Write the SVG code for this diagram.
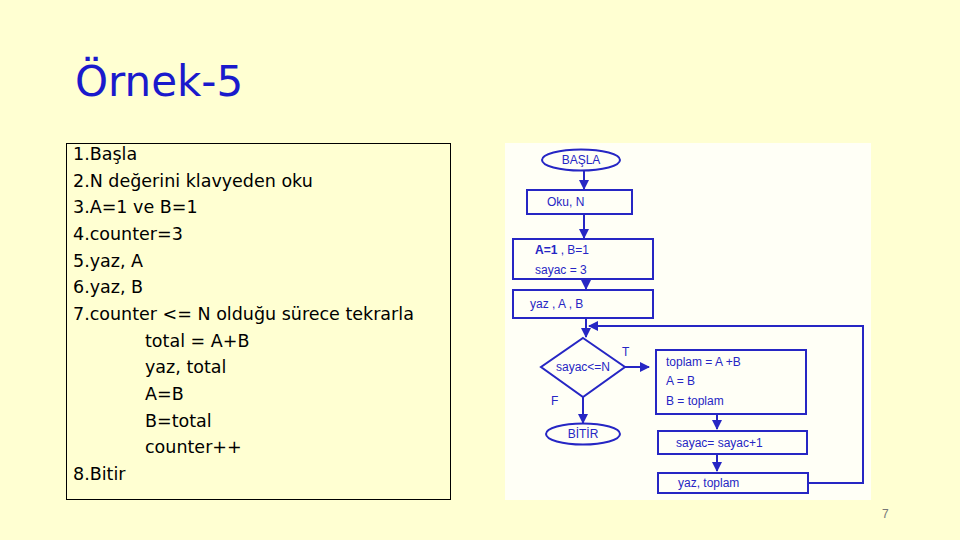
<svg xmlns="http://www.w3.org/2000/svg" width="960" height="540" viewBox="0 0 960 540">
<defs>
<style>
.bg{fill:#FFFFD2}
.code{font-family:"DejaVu Sans","Liberation Sans",sans-serif;font-size:17.500px;fill:#000}
.fc{fill:none;stroke:#2626C4;stroke-width:2}
.lbl{font-family:"Liberation Sans",Arial,sans-serif;font-size:12px;fill:#2626C4}
.ln{fill:none;stroke:#2626C4;stroke-width:2}
</style>
<marker id="ah" viewBox="0 0 10 10" refX="9" refY="5" markerWidth="5" markerHeight="5" orient="auto">
<path d="M0,0 L10,5 L0,10 z" fill="#2626C4"/>
</marker>
</defs>
<rect class="bg" x="0" y="0" width="960" height="540"/>
<text x="75" y="96" font-family="'DejaVu Sans','Liberation Sans',sans-serif" font-size="42" fill="#1A1ACC">Örnek-5</text>
<g id="code">
<rect x="66.500" y="143.500" width="384" height="356" fill="none" stroke="#000" stroke-width="1"/>
<text class="code" x="73" y="160">1.Başla</text>
<text class="code" x="73" y="187">2.N değerini klavyeden oku</text>
<text class="code" x="73" y="213">3.A=1 ve B=1</text>
<text class="code" x="73" y="240">4.counter=3</text>
<text class="code" x="73" y="267">5.yaz, A</text>
<text class="code" x="73" y="293">6.yaz, B</text>
<text class="code" x="73" y="320">7.counter  &lt;= N olduğu sürece tekrarla</text>
<text class="code" x="145" y="347">total = A+B</text>
<text class="code" x="145" y="373">yaz, total</text>
<text class="code" x="145" y="400">A=B</text>
<text class="code" x="145" y="427">B=total</text>
<text class="code" x="145" y="453">counter++</text>
<text class="code" x="73" y="480">8.Bitir</text>
</g>
<rect x="505" y="143" width="366" height="357" fill="#FFFFF6"/>
<g id="connectors">
<line class="ln" x1="584" y1="171" x2="584" y2="189" marker-end="url(#ah)"/>
<line class="ln" x1="584" y1="214" x2="584" y2="238" marker-end="url(#ah)"/>
<line class="ln" x1="586" y1="279" x2="586" y2="289" marker-end="url(#ah)"/>
<line class="ln" x1="586" y1="318" x2="586" y2="337" marker-end="url(#ah)"/>
<polyline class="ln" points="808,483 863,483 863,326 589,326" marker-end="url(#ah)"/>
<line class="ln" x1="625" y1="367" x2="649" y2="367" marker-end="url(#ah)"/>
<line class="ln" x1="583" y1="397" x2="583" y2="423" marker-end="url(#ah)"/>
<line class="ln" x1="717" y1="414" x2="717" y2="429" marker-end="url(#ah)"/>
<line class="ln" x1="717" y1="454" x2="717" y2="471" marker-end="url(#ah)"/>
<text class="lbl" x="622" y="356">T</text>
<text class="lbl" x="551" y="405">F</text>
</g>
<g id="basla">
<ellipse class="fc" cx="581" cy="160" rx="39" ry="10.500"/>
<text class="lbl" x="581" y="164" text-anchor="middle">BAŞLA</text>
</g>
<g id="oku">
<rect class="fc" x="527" y="190" width="105" height="24"/>
<text class="lbl" x="547" y="206">Oku,  N</text>
</g>
<g id="init">
<rect class="fc" x="513" y="239" width="140" height="40"/>
<text class="lbl" x="535" y="254"><tspan font-weight="bold">A=1</tspan> ,  B=1</text>
<text class="lbl" x="535" y="274" font-size="11">sayac = 3</text>
</g>
<g id="yazab">
<rect class="fc" x="513" y="290" width="140" height="28"/>
<text class="lbl" x="530" y="308">yaz , A , B</text>
</g>
<g id="cond">
<polygon class="fc" points="583,338 625,367 583,397 541,367"/>
<text class="lbl" x="583" y="371" text-anchor="middle" font-size="11">sayac&lt;=N</text>
</g>
<g id="bitir">
<ellipse class="fc" cx="583" cy="434" rx="37" ry="10.500"/>
<text class="lbl" x="583" y="438" text-anchor="middle">BİTİR</text>
</g>
<g id="body">
<rect class="fc" x="656" y="350" width="150" height="64"/>
<text class="lbl" x="666" y="366">toplam = A +B</text>
<text class="lbl" x="666" y="385">A = B</text>
<text class="lbl" x="666" y="405">B = toplam</text>
</g>
<g id="inc">
<rect class="fc" x="658" y="431" width="149" height="23"/>
<text class="lbl" x="676" y="447">sayac= sayac+1</text>
</g>
<g id="yazt">
<rect class="fc" x="658" y="473" width="150" height="20"/>
<text class="lbl" x="678" y="487">yaz, toplam</text>
</g>
<text x="882" y="518" font-family="'Liberation Sans',Arial,sans-serif" font-size="12" fill="#777">7</text>
</svg>
